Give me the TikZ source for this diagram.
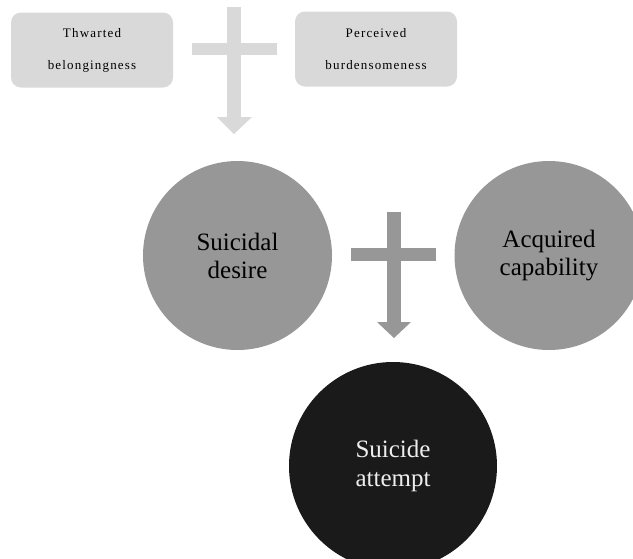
\documentclass[tikz,border=0pt]{standalone}
\usepackage{fontspec}
\setmainfont{Liberation Serif}
\definecolor{lightgr}{HTML}{D9D9D9}
\definecolor{midgr}{HTML}{979797}
\definecolor{darkgr}{HTML}{1A1A1A}
\definecolor{softwhite}{HTML}{EEEEEE}
\begin{document}
\begin{tikzpicture}[x=1pt,y=-1pt,
  topbox/.style={fill=lightgr, rounded corners=10pt, minimum width=162pt, minimum height=75pt,
    align=center, inner sep=0pt, text=black,
    font=\fontsize{13}{32}\selectfont\addfontfeature{LetterSpace=9}},
  bigdisc/.style={circle, fill=midgr, minimum size=189pt, inner sep=0pt, align=center,
    text=black, font=\fontsize{25}{28}\selectfont},
  endisc/.style={circle, fill=darkgr, minimum size=208pt, inner sep=0pt, align=center,
    text=softwhite, font=\fontsize{25}{29}\selectfont}]
\useasboundingbox (0,0) rectangle (633,558);
\clip (0,0) rectangle (633,558);
% top boxes
\node[topbox] (tb) at (92,50) {Thwarted\\belongingness};
\node[topbox] (pb) at (376,49) {Perceived\\burdensomeness};
% circles
\node[bigdisc] (sd) at (237.5,255.5) {Suicidal\\desire};
\node[bigdisc] (ac) at (549,255.5) {Acquired\\capability};
\node[endisc] (sa) at (393,466) {Suicide\\attempt};
% top plus-arrow
\fill[lightgr] (227,7) rectangle (241,118);
\fill[lightgr] (192,43) rectangle (277,55);
\fill[lightgr] (217,117) -- (252,117) -- (234,134) -- cycle;
% middle plus-arrow
\fill[midgr] (387,212) rectangle (401,323);
\fill[midgr] (351,248) rectangle (436,261);
\fill[midgr] (377,322) -- (411,322) -- (394,338) -- cycle;
\end{tikzpicture}
\end{document}
